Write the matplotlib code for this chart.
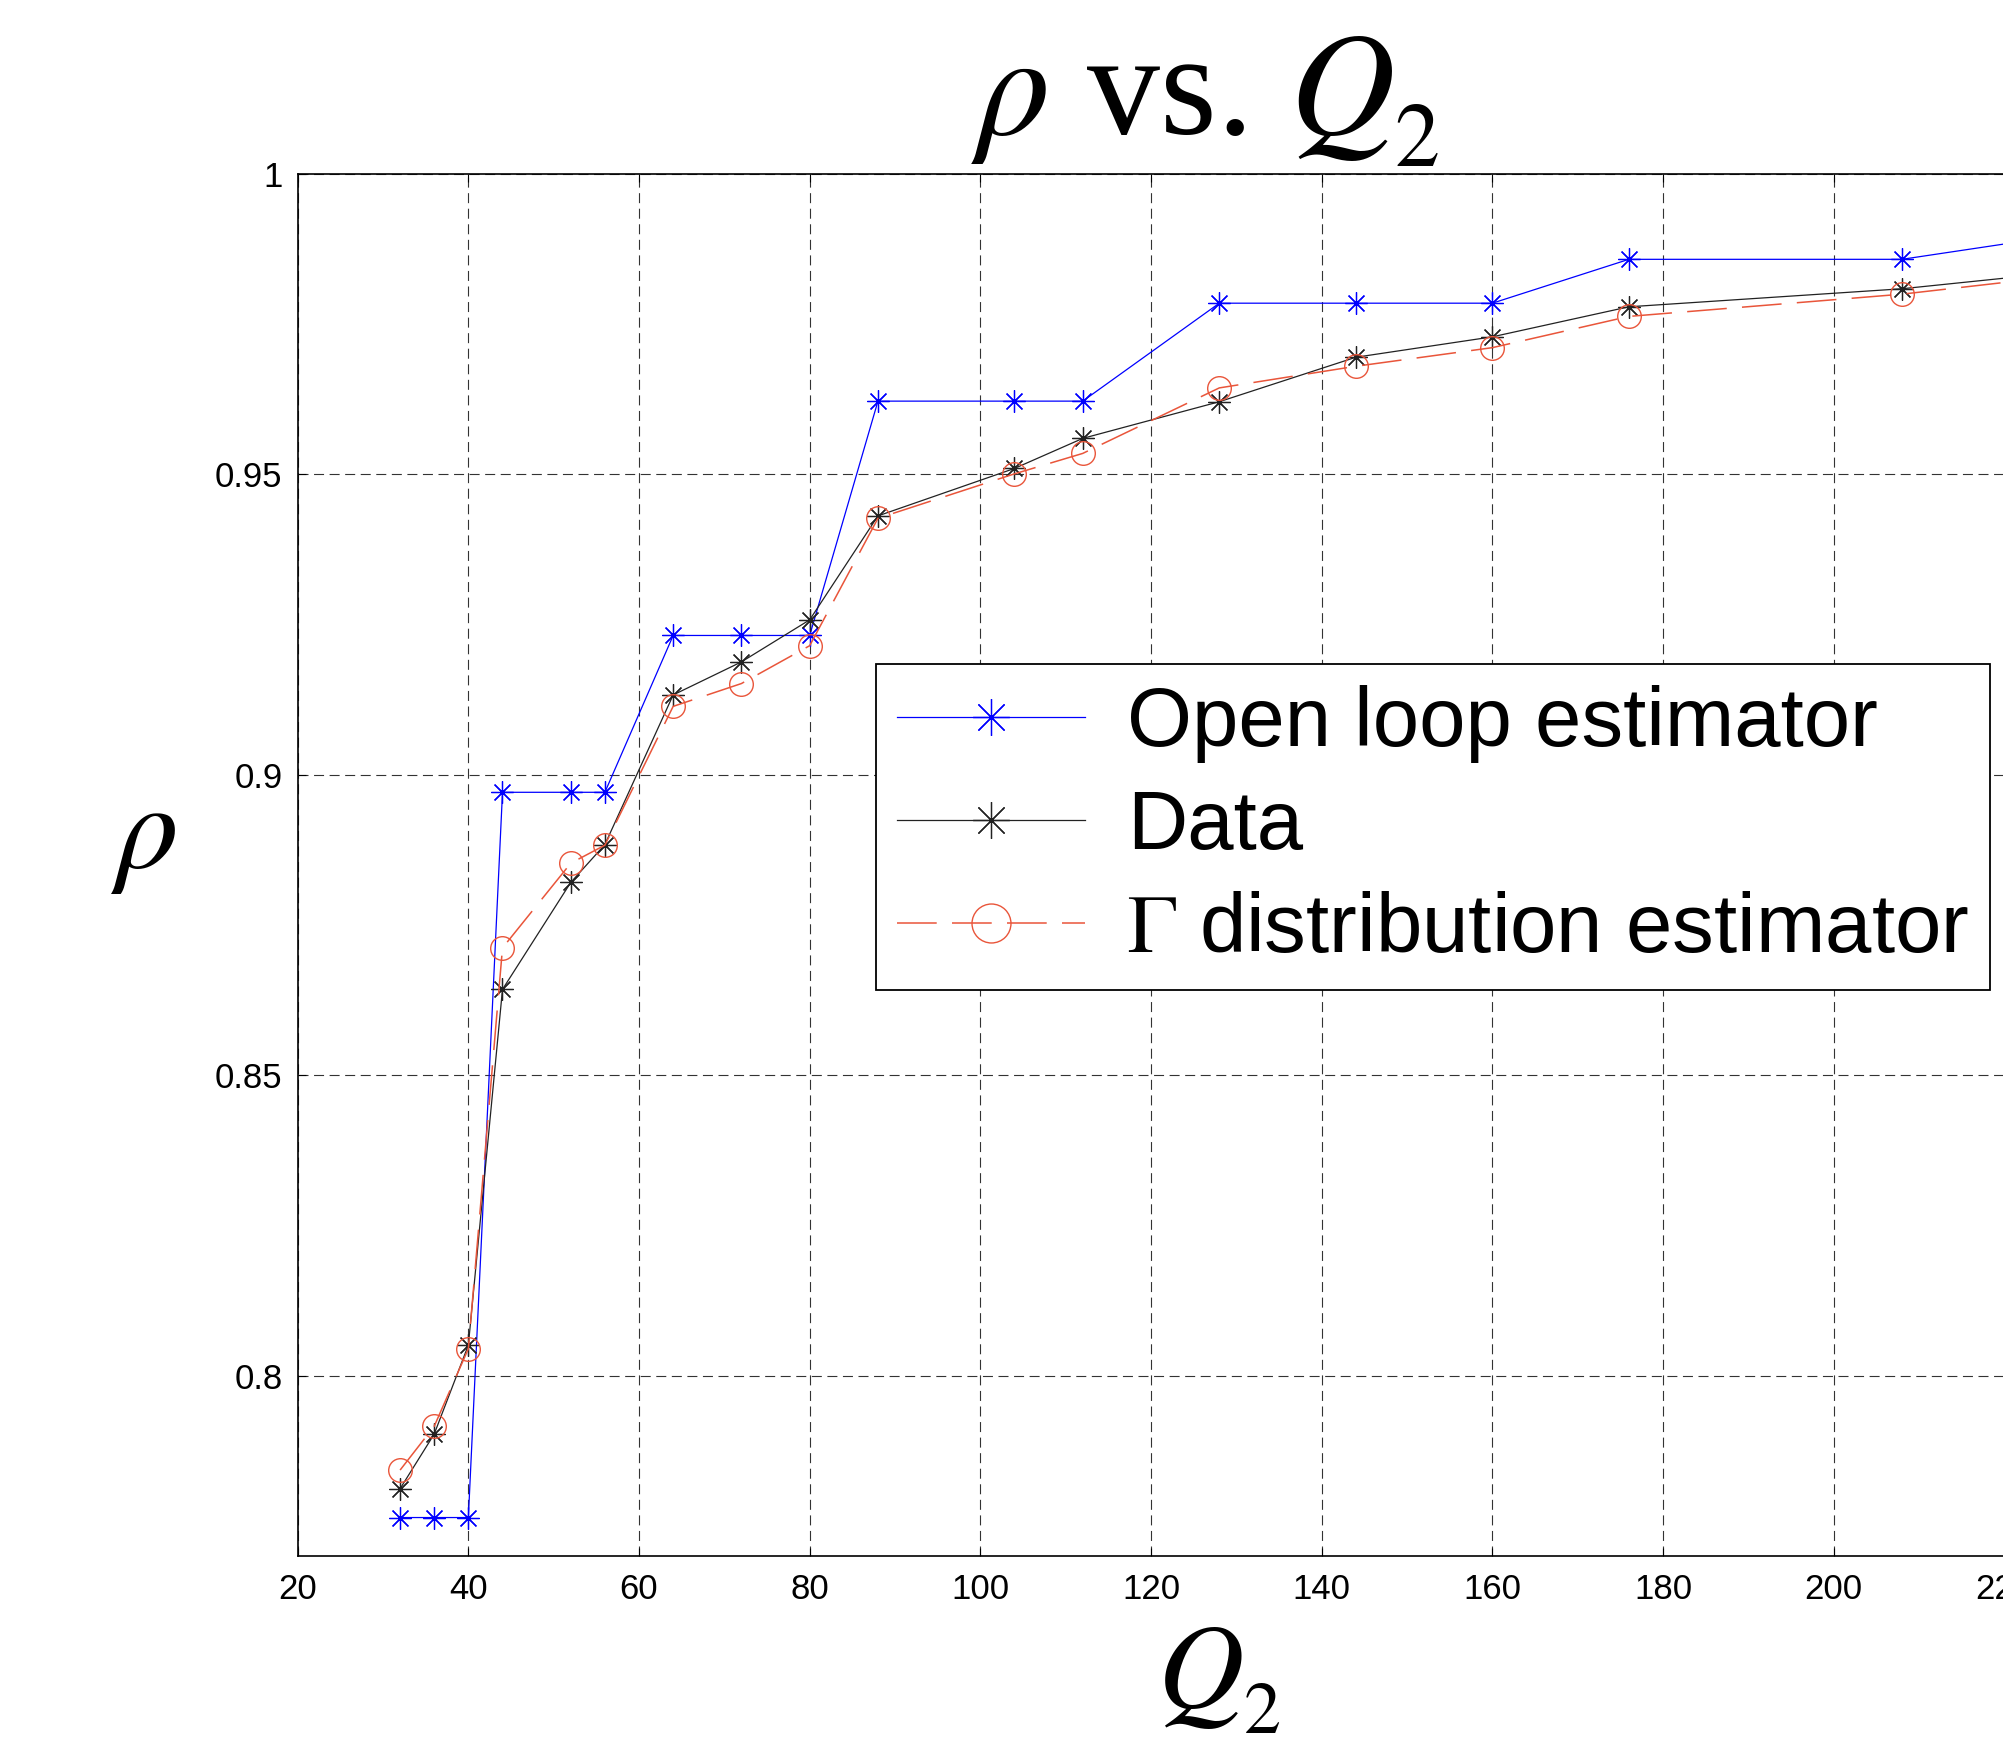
import numpy as np
import matplotlib
matplotlib.use('Agg')
import matplotlib.pyplot as plt
import matplotlib._mathtext as mathtext_internals

plt.rcParams['font.family'] = 'Liberation Sans'
plt.rcParams['mathtext.fontset'] = 'stix'
# the source figure sets its subscripts lower and a bit smaller than mathtext does
mathtext_internals.STIXFontConstants.sub1 = 0.5
mathtext_internals.SHRINK_FACTOR = 0.62

# Q2 values and the three rho curves
q2 = [32, 36, 40, 44, 52, 56, 64, 72, 80, 88, 104, 112, 128, 144, 160, 176, 208, 240]
rho_open = [0.7764, 0.7764, 0.7764, 0.8971, 0.8971, 0.8971, 0.9232, 0.9232, 0.9232,
            0.9622, 0.9622, 0.9622, 0.9785, 0.9785, 0.9785, 0.9858, 0.9858, 0.9926]
rho_data = [0.7812, 0.7903, 0.8051, 0.8643, 0.8821, 0.8884, 0.9133, 0.9188, 0.9258,
            0.9431, 0.9510, 0.9560, 0.9621, 0.9695, 0.9729, 0.9779, 0.9809, 0.9856]
rho_gamma = [0.7843, 0.7916, 0.8045, 0.8712, 0.8853, 0.8883, 0.9114, 0.9152, 0.9215,
             0.9427, 0.9501, 0.9535, 0.9644, 0.9680, 0.9711, 0.9763, 0.9800, 0.9852]

labels = ['Open loop estimator', 'Data', r'$\Gamma$ distribution estimator']
xticks = list(range(20, 241, 20))
yticks = [0.8, 0.85, 0.9, 0.95, 1.0]
yticklabels = ['0.8', '0.85', '0.9', '0.95', '1']

W, H = 2003, 1738
fig = plt.figure(figsize=(W / 100, H / 100), dpi=100)

# axes box in pixels (right edge runs past the figure, as in the source image)
left, right, top, bottom = 297.7, 2175.0, 174.0, 1556.0
ax = fig.add_axes([left / W, 1 - bottom / H, (right - left) / W, (bottom - top) / H])

ax.plot(q2, rho_open, color='#0000ff', lw=0.9, marker=(8, 2, 0), ms=16,
        mew=0.9, label=labels[0])
ax.plot(q2, rho_data, color='#222222', lw=0.9, marker=(8, 2, 0), ms=16,
        mew=0.9, label=labels[1])
ax.plot(q2, rho_gamma, color='#e9553a', lw=1.1, dashes=(26, 10), marker='o', ms=17,
        mfc='none', mec='#e9553a', mew=1.0, label=labels[2])

ax.set_xlim(20, 240)
ax.set_ylim(0.77, 1.0)
ax.set_xticks(xticks)
ax.set_yticks(yticks)
ax.set_yticklabels(yticklabels)
ax.tick_params(direction='in', length=6, width=0.8, labelsize=25,
               top=True, right=True)
ax.tick_params(axis='y', pad=11)
ax.tick_params(axis='x', pad=12)
for s in ax.spines.values():
    s.set_linewidth(1.2)
    s.set_color('black')

ax.set_axisbelow(True)
ax.grid(True, color='0.2', linestyle=(0, (9, 5)), linewidth=0.8)

ax.set_title(r'$\rho$ vs. $Q_2$', fontsize=105, fontfamily='Liberation Serif',
             x=(1205 - left) / (right - left), y=(bottom - 135) / (bottom - top),
             pad=0, va='baseline')
ax.set_xlabel(r'$Q_2$', fontsize=86, va='baseline')
ax.xaxis.set_label_coords((1219 - left) / (right - left), (bottom - 1707) / (bottom - top))
ax.set_ylabel(r'$\rho$', fontsize=90, rotation=0, ha='center', va='center')
ax.yaxis.set_label_coords((143 - left) / (right - left), (bottom - 838) / (bottom - top))

leg = ax.legend(loc='upper left', bbox_to_anchor=(876 / W, 1 - 664 / H),
                bbox_transform=fig.transFigure, borderaxespad=0, borderpad=0.25,
                handlelength=2.26, handletextpad=0.5, labelspacing=0.3,
                markerscale=1.65, fontsize=60, fancybox=False, framealpha=1,
                edgecolor='black')
leg.get_frame().set_linewidth(1.3)

fig.savefig('out.png', dpi=100)
